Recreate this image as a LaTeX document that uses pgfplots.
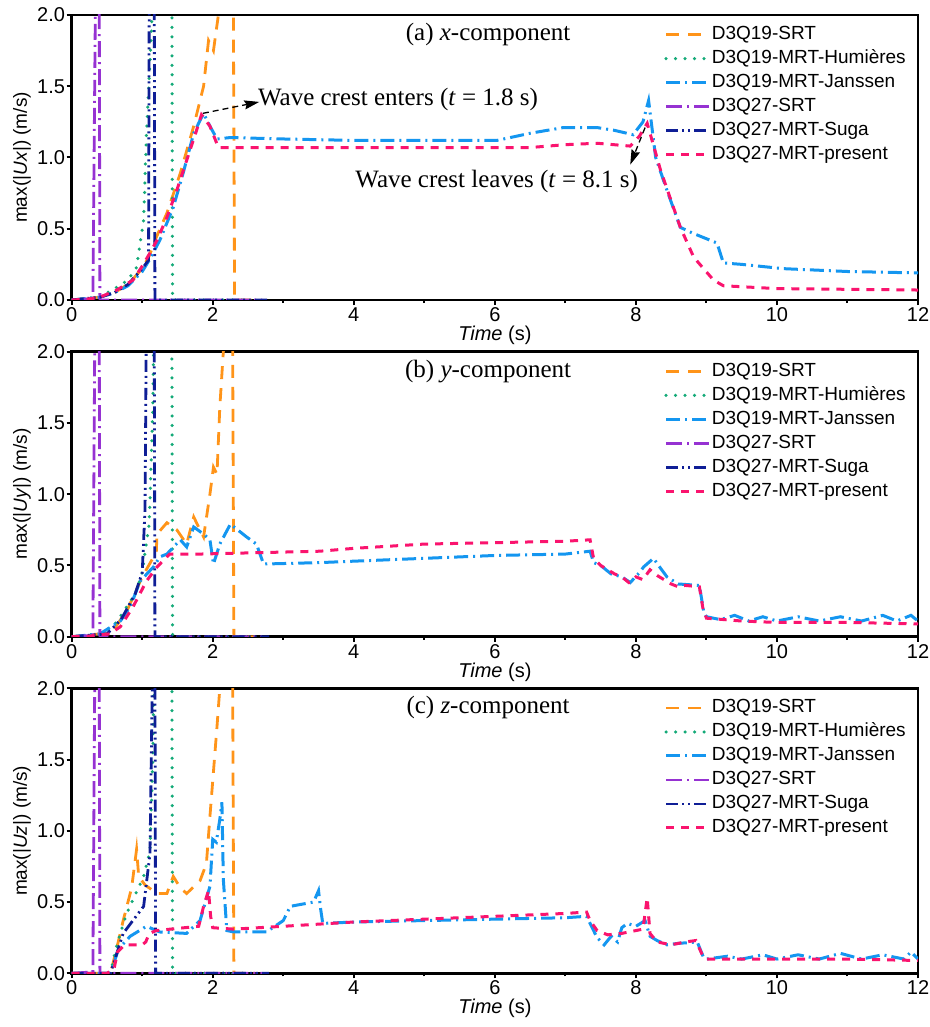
\documentclass[border=0pt]{standalone}
\usepackage{pgfplots}
\pgfplotsset{compat=1.18}
\usetikzlibrary{arrows.meta}
\usepackage{fontspec}
\setmainfont{Liberation Sans}
\newfontfamily\serif{Liberation Serif}
\definecolor{corange}{RGB}{255,148,25}
\definecolor{cgreen}{RGB}{20,170,120}
\definecolor{cblue}{RGB}{20,150,240}
\definecolor{cpurple}{RGB}{150,50,210}
\definecolor{cnavy}{RGB}{15,30,150}
\definecolor{cpink}{RGB}{250,20,110}
\tikzset{
  srt/.style={color=corange, line width=2.8pt, dash pattern=on 13pt off 9pt},
  hum/.style={color=cgreen, line width=3.5pt, line cap=round, dash pattern=on 0pt off 9.5pt},
  jan/.style={color=cblue, line width=3pt, dash pattern=on 14pt off 5pt on 2pt off 5pt},
  srtq/.style={color=cpurple, line width=2.8pt, dash pattern=on 16pt off 5pt on 2pt off 5pt},
  suga/.style={color=cnavy, line width=2.8pt, dash pattern=on 12pt off 4pt on 2pt off 4pt on 2pt off 4pt},
  pres/.style={color=cpink, line width=3pt, dash pattern=on 8pt off 7pt},
  annarrow/.style={dash pattern=on 6pt off 4pt, line width=1.3pt, -{Stealth[length=15pt,width=9pt,inset=2pt]}},
}
\pgfplotsset{
  panel/.style={
    scale only axis, width=846.3pt, height=285pt,
    xmin=0, xmax=12, ymin=0, ymax=2,
    xtick={0,2,...,12}, minor x tick num=1,
    ytick={0,0.5,...,2},
    xtick pos=left, ytick pos=left,
    tick align=outside,
    major tick length=5pt, minor tick length=3pt,
    tick style={line width=2pt, black},
    axis line style={line width=2.5pt},
    /pgf/number format/assume math mode=true,
    ticklabel style={font=\fontsize{20}{20}\selectfont},
    xticklabel style={inner sep=2.5pt, text depth=0pt},
    yticklabel style={inner sep=1.5pt, /pgf/number format/.cd, fixed, fixed zerofill, precision=1},
    xlabel={\textit{Time} (s)},
    xlabel style={at={(axis description cs:0.5,-0.1245)}, anchor=center, inner sep=0pt, font=\fontsize{20}{20}\selectfont},
    ylabel style={at={(axis description cs:-0.0587,0.5)}, anchor=center, font=\fontsize{19}{19}\selectfont},
    legend image code/.code={\draw[##1] (0pt,0pt) -- (43pt,0pt);},
    legend style={at={(rel axis cs:0.700,0.965)}, anchor=north west, draw=none, fill=none,
      inner sep=0pt, row sep=5pt, font=\fontsize{19}{19}\selectfont,
      nodes={inner sep=1pt, text height=13.5pt, text depth=3.5pt}},
    legend cell align=left,
  }
}
\begin{document}
\begin{tikzpicture}
\useasboundingbox (0,0) rectangle (929pt,-1027pt);
% ---------------- (a)
\begin{axis}[panel, at={(71.7pt,-15pt)}, anchor=north west, ylabel={max(|\textit{Ux}|) (m/s)}]
\addplot[srt] coordinates {(0,0) (0.4,0.02) (0.6,0.05) (0.8,0.11) (1.0,0.22) (1.1,0.31) (1.2,0.44) (1.35,0.61) (1.54,0.89) (1.73,1.22) (1.87,1.50) (1.94,1.82) (2.01,1.75) (2.08,2.0) (2.2,2.3) (2.29,2.3) (2.31,0.0) (2.55,0)};
\addlegendentry{D3Q19-SRT}
\addplot[hum] coordinates {(0,0) (0.4,0.02) (0.64,0.09) (0.8,0.14) (0.92,0.23) (1.02,0.56) (1.06,1.17) (1.13,1.87) (1.15,2.3) (1.42,2.3) (1.43,0.0) (2.5,0)};
\addlegendentry{D3Q19-MRT-Humières}
\addplot[jan] coordinates {(0,0) (0.4,0.02) (0.6,0.05) (0.8,0.1) (1.0,0.2) (1.1,0.28) (1.25,0.42) (1.44,0.65) (1.58,0.89) (1.73,1.17) (1.87,1.31) (1.96,1.22) (2.06,1.13) (2.25,1.14) (3,1.13) (4,1.12) (5,1.12) (6.03,1.12) (6.5,1.17) (6.97,1.21) (7.45,1.21) (7.7,1.19) (7.96,1.16) (8.1,1.25) (8.18,1.40) (8.28,1.0) (8.44,0.77) (8.63,0.51) (8.8,0.47) (9.15,0.40) (9.24,0.26) (9.5,0.25) (10.09,0.22) (11,0.2) (12,0.19)};
\addlegendentry{D3Q19-MRT-Janssen}
\addplot[srtq] coordinates {(0,0) (0.3,0.01) (0.34,2.3) (0.39,2.3) (0.40,0) (2.7,0)};
\addlegendentry{D3Q27-SRT}
\addplot[suga] coordinates {(0,0) (0.4,0.02) (0.6,0.05) (0.8,0.11) (1.0,0.22) (1.09,0.28) (1.10,2.3) (1.17,2.3) (1.18,0) (2.8,0)};
\addlegendentry{D3Q27-MRT-Suga}
\addplot[pres] coordinates {(0,0) (0.2,0.005) (0.4,0.02) (0.64,0.07) (0.87,0.14) (0.99,0.23) (1.11,0.33) (1.21,0.42) (1.35,0.58) (1.49,0.77) (1.63,0.98) (1.77,1.19) (1.84,1.30) (1.96,1.22) (2.08,1.07) (2.3,1.07) (4,1.07) (5.5,1.07) (6.5,1.07) (7.0,1.09) (7.45,1.10) (7.92,1.08) (8.05,1.15) (8.16,1.24) (8.35,0.91) (8.63,0.51) (8.82,0.30) (9.10,0.14) (9.24,0.10) (10,0.08) (11,0.075) (12,0.07)};
\addlegendentry{D3Q27-MRT-present}
\node[font=\serif\fontsize{25}{25}\selectfont] at (rel axis cs:0.492,0.932) {(a) \textit{x}-component};
\draw[annarrow] (axis cs:1.86,1.31) -- (axis cs:2.66,1.39);
\node[font=\serif\fontsize{25}{25}\selectfont, anchor=west, inner sep=0pt] at (axis cs:2.64,1.41) {Wave crest enters (\textit{t} = 1.8 s)};
\draw[annarrow] (axis cs:8.13,1.21) -- (axis cs:7.92,0.95);
\node[font=\serif\fontsize{25}{25}\selectfont, anchor=west, inner sep=0pt] at (axis cs:4.02,0.83) {Wave crest leaves (\textit{t} = 8.1 s)};
\end{axis}
% ---------------- (b)
\begin{axis}[panel, at={(71.7pt,-351.7pt)}, anchor=north west, ylabel={max(|\textit{Uy}|) (m/s)}]
\addplot[srt] coordinates {(0,0) (0.4,0.02) (0.6,0.05) (0.8,0.2) (1.0,0.42) (1.15,0.55) (1.2,0.6) (1.21,0.72) (1.35,0.80) (1.49,0.75) (1.63,0.65) (1.73,0.84) (1.87,0.70) (1.96,1.0) (2.01,1.19) (2.06,1.14) (2.1,1.61) (2.15,2.0) (2.2,2.3) (2.28,2.3) (2.3,0) (2.6,0)};
\addlegendentry{D3Q19-SRT}
\addplot[hum] coordinates {(0,0) (0.4,0.02) (0.6,0.08) (0.7,0.15) (0.9,0.3) (1.0,0.45) (1.1,0.8) (1.15,1.6) (1.17,2.3) (1.42,2.3) (1.43,0) (2.5,0)};
\addlegendentry{D3Q19-MRT-Humières}
\addplot[jan] coordinates {(0,0) (0.40,0.02) (0.69,0.11) (0.83,0.21) (0.97,0.39) (1.16,0.49) (1.25,0.56) (1.35,0.58) (1.54,0.68) (1.63,0.63) (1.73,0.77) (1.87,0.72) (1.96,0.68) (2.01,0.51) (2.10,0.65) (2.25,0.79) (2.48,0.70) (2.62,0.65) (2.72,0.51) (3.52,0.52) (4,0.53) (5,0.55) (6,0.57) (7,0.58) (7.35,0.60) (7.4,0.52) (7.5,0.50) (7.65,0.44) (7.8,0.42) (7.92,0.38) (8.05,0.45) (8.11,0.49) (8.25,0.55) (8.35,0.48) (8.44,0.42) (8.6,0.37) (8.9,0.36) (8.96,0.18) (9.0,0.14) (9.2,0.12) (9.4,0.15) (9.6,0.11) (9.8,0.14) (10.0,0.11) (10.3,0.14) (10.6,0.11) (10.9,0.14) (11.2,0.11) (11.5,0.15) (11.7,0.11) (11.9,0.15) (12,0.11)};
\addlegendentry{D3Q19-MRT-Janssen}
\addplot[srtq] coordinates {(0,0) (0.3,0.01) (0.33,2.3) (0.39,2.3) (0.40,0) (2.7,0)};
\addlegendentry{D3Q27-SRT}
\addplot[suga] coordinates {(0,0) (0.5,0.02) (0.7,0.12) (0.9,0.3) (1.0,0.45) (1.04,0.9) (1.06,2.3) (1.17,2.3) (1.18,0) (2.8,0)};
\addlegendentry{D3Q27-MRT-Suga}
\addplot[pres] coordinates {(0,0) (0.17,0.0) (0.54,0.02) (0.69,0.07) (0.87,0.21) (1.06,0.39) (1.21,0.49) (1.39,0.58) (1.82,0.58) (3.52,0.60) (4,0.62) (5,0.65) (6,0.66) (7,0.67) (7.35,0.68) (7.4,0.55) (7.5,0.50) (7.6,0.47) (7.7,0.44) (7.8,0.42) (7.9,0.38) (8.0,0.42) (8.1,0.40) (8.2,0.47) (8.3,0.43) (8.4,0.40) (8.5,0.37) (8.6,0.35) (8.7,0.36) (8.9,0.35) (8.95,0.2) (9.0,0.13) (9.5,0.11) (10,0.10) (11,0.10) (12,0.09)};
\addlegendentry{D3Q27-MRT-present}
\node[font=\serif\fontsize{25}{25}\selectfont] at (rel axis cs:0.492,0.932) {(b) \textit{y}-component};
\end{axis}
% ---------------- (c)
\begin{axis}[panel, at={(71.7pt,-688.3pt)}, anchor=north west, ylabel={max(|\textit{Uz}|) (m/s)}]
\addplot[srt] coordinates {(0,0) (0.55,0) (0.65,0.2) (0.73,0.37) (0.85,0.6) (0.92,0.87) (0.95,0.68) (1.04,0.62) (1.21,0.56) (1.35,0.56) (1.44,0.68) (1.54,0.60) (1.63,0.56) (1.82,0.65) (1.91,0.77) (1.96,1.1) (2.06,1.73) (2.1,2.0) (2.15,2.3) (2.28,2.3) (2.3,0) (2.6,0)};
\addlegendentry{D3Q19-SRT}
\addplot[hum] coordinates {(0,0) (0.55,0) (0.64,0.20) (0.78,0.42) (1.02,0.68) (1.11,0.86) (1.15,1.5) (1.17,2.3) (1.42,2.3) (1.43,0) (2.5,0)};
\addlegendentry{D3Q19-MRT-Humières}
\addplot[jan] coordinates {(0,0) (0.55,0) (0.65,0.15) (0.7,0.19) (0.83,0.26) (1.06,0.33) (1.25,0.29) (1.63,0.28) (1.82,0.37) (1.96,0.61) (2.0,0.94) (2.05,0.92) (2.1,1.08) (2.13,1.2) (2.15,0.66) (2.2,0.30) (2.3,0.29) (2.76,0.29) (3.0,0.37) (3.1,0.47) (3.43,0.5) (3.5,0.58) (3.53,0.45) (3.56,0.35) (4,0.36) (5,0.37) (6,0.38) (7,0.39) (7.3,0.4) (7.35,0.35) (7.45,0.25) (7.55,0.20) (7.65,0.26) (7.74,0.22) (7.8,0.32) (7.88,0.35) (8.0,0.33) (8.13,0.37) (8.2,0.26) (8.3,0.23) (8.44,0.2) (8.6,0.21) (8.87,0.22) (8.96,0.11) (9.0,0.1) (9.3,0.12) (9.5,0.1) (9.8,0.13) (10,0.1) (10.3,0.13) (10.6,0.1) (10.9,0.14) (11.2,0.1) (11.5,0.13) (11.8,0.1) (11.9,0.15) (12,0.1)};
\addlegendentry{D3Q19-MRT-Janssen}
\addplot[srtq] coordinates {(0,0) (0.3,0.01) (0.33,2.3) (0.39,2.3) (0.40,0) (2.7,0)};
\addlegendentry{D3Q27-SRT}
\addplot[suga] coordinates {(0,0) (0.55,0) (0.73,0.28) (1.02,0.47) (1.11,0.84) (1.15,2.3) (1.18,2.3) (1.19,0) (2.8,0)};
\addlegendentry{D3Q27-MRT-Suga}
\addplot[pres] coordinates {(0,0) (0.5,0.0) (0.6,0.03) (0.65,0.15) (0.75,0.2) (1.0,0.2) (1.05,0.22) (1.1,0.28) (1.2,0.3) (1.6,0.32) (1.8,0.33) (1.87,0.47) (1.94,0.58) (1.97,0.4) (2.0,0.32) (2.3,0.31) (3.0,0.33) (4,0.36) (5,0.38) (6,0.4) (7,0.42) (7.3,0.43) (7.35,0.37) (7.45,0.3) (7.6,0.27) (7.8,0.28) (8.0,0.3) (8.1,0.31) (8.16,0.53) (8.2,0.28) (8.3,0.22) (8.5,0.2) (8.7,0.22) (8.85,0.23) (8.95,0.12) (9.0,0.1) (10,0.1) (11,0.1) (12,0.09)};
\addlegendentry{D3Q27-MRT-present}
\node[font=\serif\fontsize{25}{25}\selectfont] at (rel axis cs:0.492,0.932) {(c) \textit{z}-component};
\end{axis}
\end{tikzpicture}
\end{document}
